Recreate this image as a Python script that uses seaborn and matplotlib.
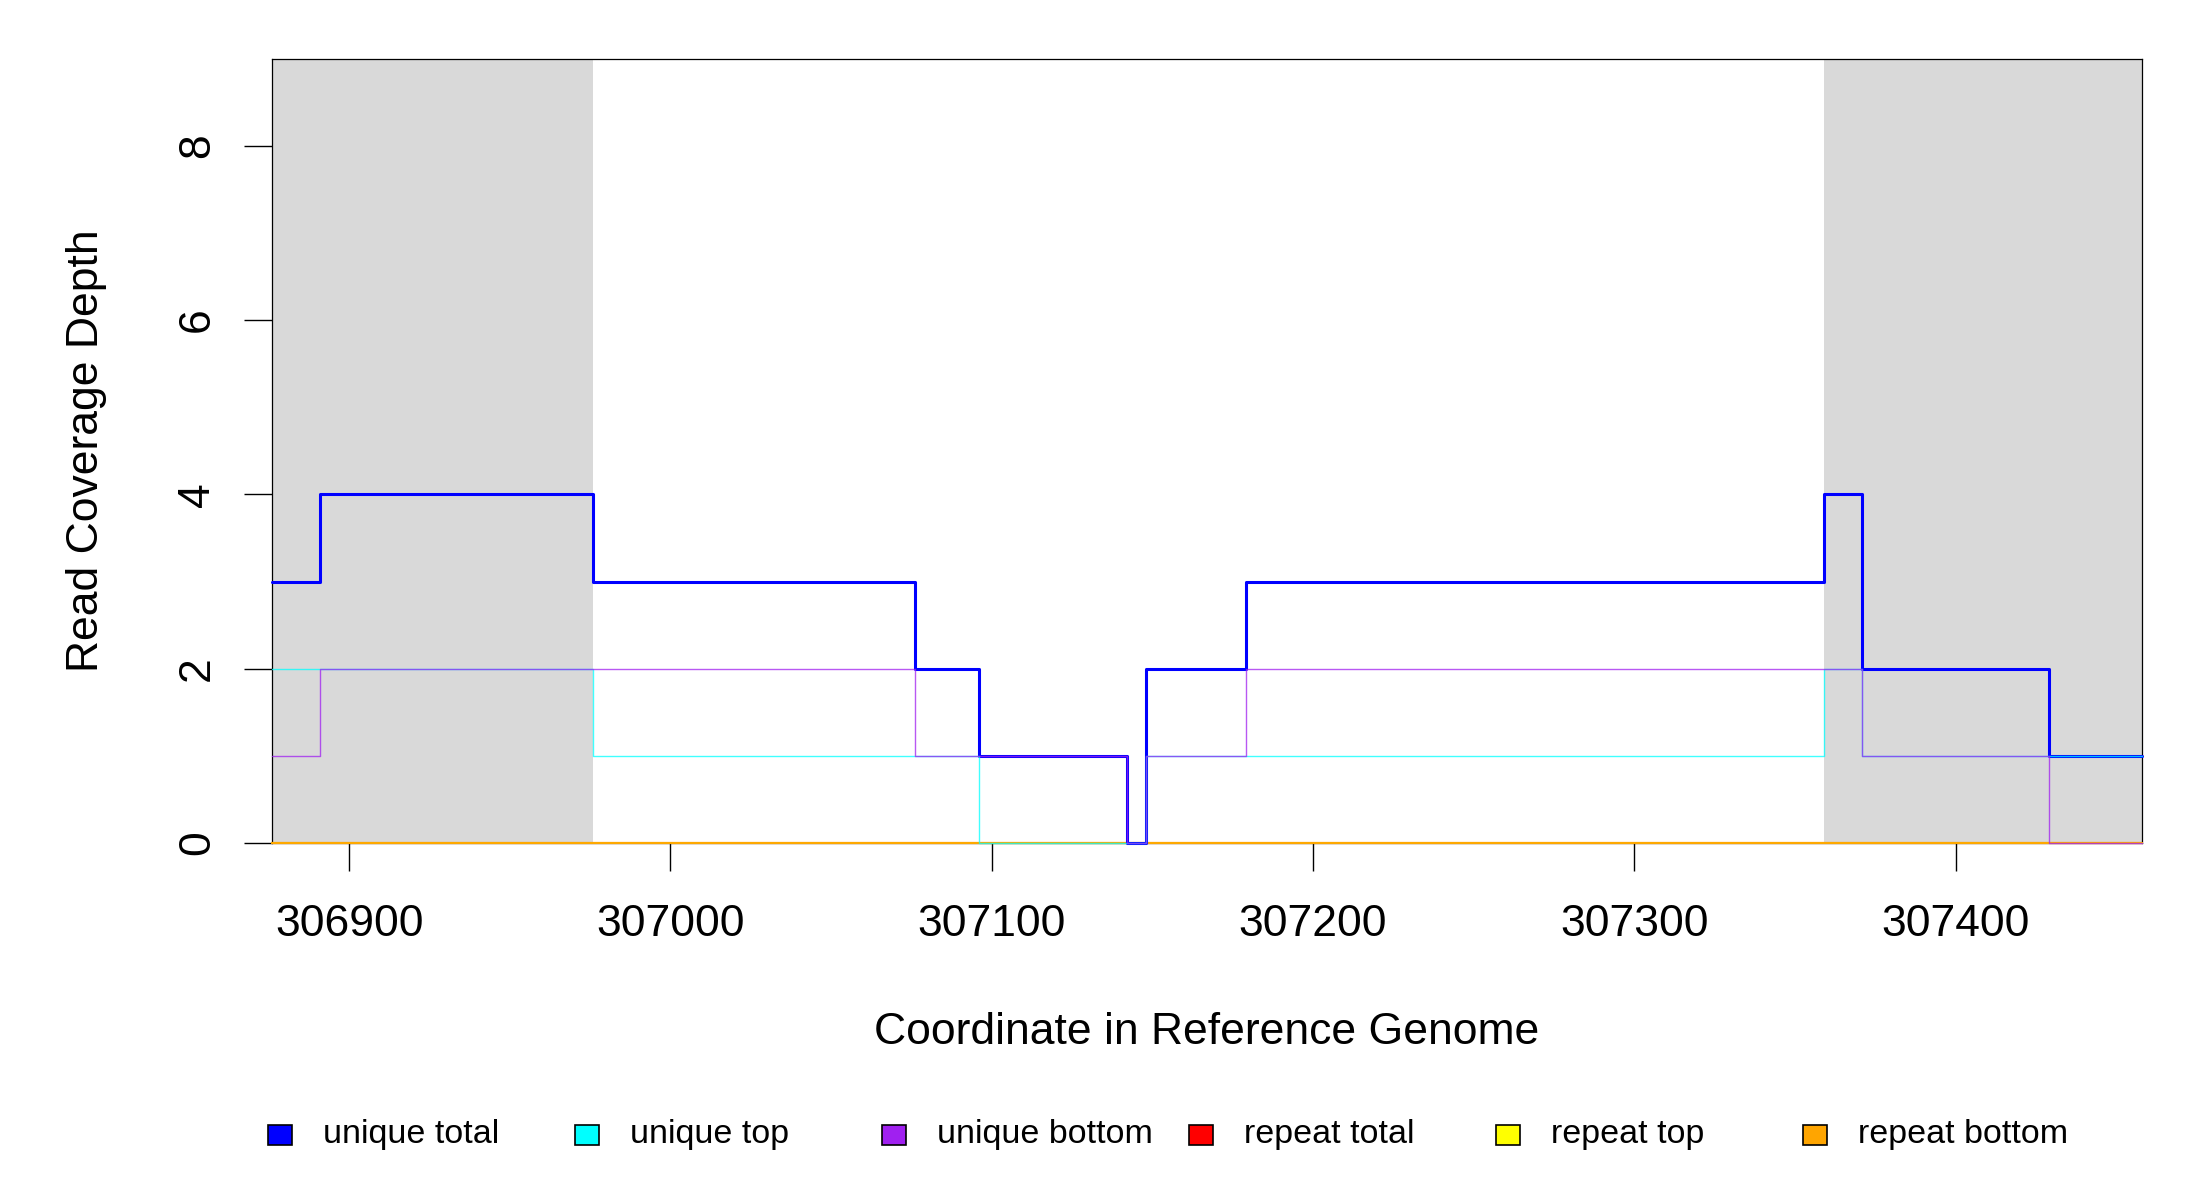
import numpy as np
import pandas as pd
import matplotlib
matplotlib.use("Agg")
import matplotlib.pyplot as plt
from matplotlib.patches import Rectangle
import seaborn as sns

# segment starts along the reference (each value holds until the next start)
seg_start = [306876, 306891, 306976, 307076, 307096, 307142, 307148, 307179, 307359, 307371, 307429]
seg_end = 307458

unique_total = [3, 4, 3, 2, 1, 0, 2, 3, 4, 2, 1]
unique_top = [2, 2, 1, 1, 0, 0, 1, 1, 2, 1, 1]
unique_bottom = [1, 2, 2, 1, 1, 0, 1, 2, 2, 1, 0]
repeat_total = [0, 0, 0, 0, 0, 0, 0, 0, 0, 0, 0]
repeat_top = [0, 0, 0, 0, 0, 0, 0, 0, 0, 0, 0]
repeat_bottom = [0, 0, 0, 0, 0, 0, 0, 0, 0, 0, 0]

# flanking shaded regions
shade_start = [306876, 307359]
shade_end = [306976, 307458]

x_ticks = [306900, 307000, 307100, 307200, 307300, 307400]
y_ticks = [0, 2, 4, 6, 8]

legend_labels = ["unique total", "unique top", "unique bottom",
                 "repeat total", "repeat top", "repeat bottom"]
legend_colors = ["#0000FF", "#00FFFF", "#A020F0", "#FF0000", "#FFFF00", "#FFA500"]

sns.set_theme(style="white")
plt.rcParams['font.family'] = ['Liberation Sans', 'DejaVu Sans']
plt.rcParams['text.color'] = 'black'
plt.rcParams['axes.labelcolor'] = 'black'
plt.rcParams['xtick.color'] = 'black'
plt.rcParams['ytick.color'] = 'black'

W, H = 2200, 1200
fig = plt.figure(figsize=(22, 12), dpi=100)
ax_l, ax_r, ax_t, ax_b = 272, 2142, 58.5, 843
ax = fig.add_axes([ax_l / W, 1 - ax_b / H, (ax_r - ax_l) / W, (ax_b - ax_t) / H])

for s, e in zip(shade_start, shade_end):
    ax.axvspan(s, e, color="#D9D9D9", lw=0, zorder=0)

xs = seg_start + [seg_end]


def step_df(vals):
    return pd.DataFrame({"pos": xs, "depth": vals + [vals[-1]]})


series = [
    (repeat_total, "#FF0000", 1.5, 0.8),
    (repeat_top, "#FFFF00", 1.5, 0.8),
    (repeat_bottom, "#FFA500", 1.5, 0.9),
    (unique_total, "#0000FF", 2.2, 1.0),
    (unique_top, "#00FFFF", 1.0, 0.75),
    (unique_bottom, "#A020F0", 1.0, 0.75),
]
for vals, col, lw, a in series:
    sns.lineplot(data=step_df(vals), x="pos", y="depth", ax=ax, color=col,
                 lw=lw, alpha=a, drawstyle="steps-post", estimator=None,
                 sort=False, zorder=3, clip_on=False)

ax.set_xlim(306876, seg_end)
ax.set_ylim(0, 9)
ax.set_xticks(x_ticks)
ax.set_xticklabels([str(t) for t in x_ticks], fontsize=32)
ax.set_yticks(y_ticks)
ax.set_yticklabels([str(t) for t in y_ticks], fontsize=32, rotation=90, va="center")
ax.tick_params(axis="both", direction="out", length=20, width=1.0, color="black",
               labelcolor="black", bottom=True, left=True)
ax.tick_params(axis="x", pad=24)
ax.tick_params(axis="y", pad=19)
for sp in ax.spines.values():
    sp.set_visible(True)
    sp.set_color("black")
    sp.set_linewidth(0.9)
    sp.set_zorder(2.5)

ax.set_xlabel("Coordinate in Reference Genome", fontsize=32, va="center")
ax.set_ylabel("Read Coverage Depth", fontsize=32, va="center")
ax.xaxis.set_label_coords(0.5, (ax_b - 1033) / (ax_b - ax_t))
ax.yaxis.set_label_coords((87 - ax_l) / (ax_r - ax_l), 0.5)

# legend row along the bottom
leg_y = 1135
for i, (lab, col) in enumerate(zip(legend_labels, legend_colors)):
    x0 = 268 + 307 * i
    fig.patches.append(Rectangle((x0 / W, 1 - (leg_y + 10) / H), 24 / W, 20 / H,
                                 transform=fig.transFigure, facecolor=col,
                                 edgecolor="black", lw=1.2))
    fig.text((x0 + 55) / W, 1 - leg_y / H, lab, fontsize=24.5, va="center", ha="left")

fig.savefig("out.png", dpi=100)
